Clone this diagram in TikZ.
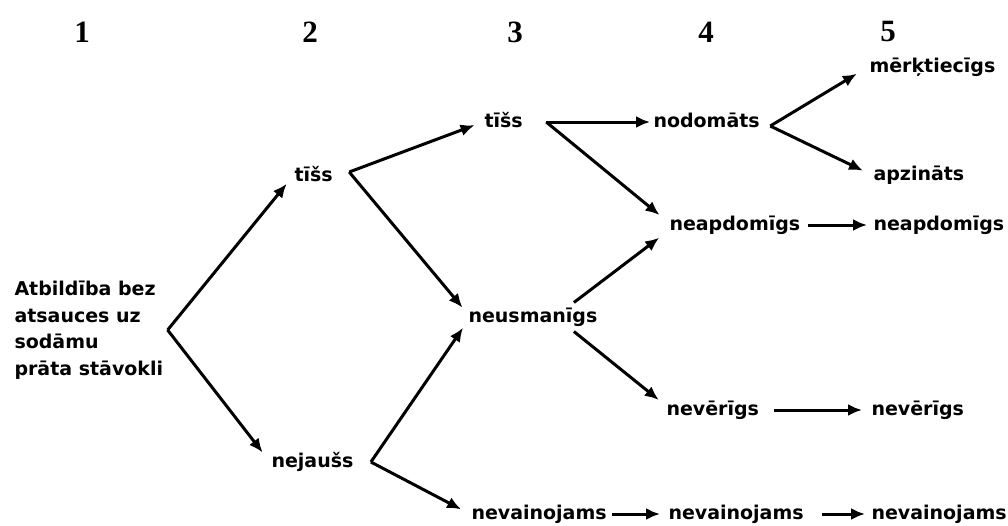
\documentclass[tikz,border=0pt]{standalone}
\usepackage{fontspec}
\newfontfamily\lblfont{DejaVu Sans}
\newfontfamily\numfont{Liberation Serif}
\usetikzlibrary{arrows.meta}
\begin{document}
\begin{tikzpicture}[x=1pt,y=-1pt,>={Latex[length=14pt,width=12pt]},line width=3pt,
	txt/.style={font=\lblfont\bfseries\fontsize{19}{26.5}\selectfont,inner sep=0pt,anchor=west},
	lbl/.style={txt,text height=14pt,text depth=4pt},
	colnum/.style={font=\numfont\bfseries\fontsize{31}{33}\selectfont,inner sep=0pt},
	link/.style={->,shorten >=9pt}]
\useasboundingbox (0,0) rectangle (1008,525);
\node[colnum] (c1) at (82,32) {1};
\node[colnum] (c2) at (310,32) {2};
\node[colnum] (c3) at (515,32) {3};
\node[colnum] (c4) at (706,32) {4};
\node[colnum] (c5) at (888,32) {5};
\node[txt,align=left] (root) at (13,330) {Atbildība bez\\atsauces uz\\sodāmu\\prāta stāvokli};
\node[lbl] (t2) at (293,176) {tīšs};
\node[lbl] (nj) at (270,462) {nejaušs};
\node[lbl] (t3) at (483,122) {tīšs};
\node[lbl] (ne) at (467,317) {neusmanīgs};
\node[lbl] (nn3) at (470,514) {nevainojams};
\node[lbl] (nd) at (652,122) {nodomāts};
\node[lbl] (na4) at (668,225) {neapdomīgs};
\node[lbl] (nv4) at (665,410) {nevērīgs};
\node[lbl] (nn4) at (667,514) {nevainojams};
\node[lbl] (mk) at (868,67) {mērķtiecīgs};
\node[lbl] (ap) at (872,175) {apzināts};
\node[lbl] (na5) at (872,225) {neapdomīgs};
\node[lbl] (nv5) at (870,410) {nevērīgs};
\node[lbl] (nn5) at (870,514) {nevainojams};
% branch points
\coordinate (r0) at ([xshift=3pt]root.east);
\coordinate (t2o) at ([xshift=15pt,yshift=4pt]t2.east);
\coordinate (t3o) at ([xshift=22pt]t3.east);
\coordinate (njo) at ([xshift=16pt]nj.east);
\coordinate (ndo) at ([xshift=9pt,yshift=-4pt]nd.east);
\draw[link,shorten >=10pt] (r0) -- (t2.west);
\draw[link,shorten >=12pt] (r0) -- (nj.west);
\draw[link] (t2o) -- (t3.west);
\draw[link,shorten >=7pt] (t2o) -- ([yshift=4pt]ne.west);
\draw[link,shorten >=7pt] (njo) -- ([yshift=-5pt]ne.west);
\draw[link,shorten >=10pt] (njo) -- (nn3.west);
\draw[link,shorten >=2pt] (t3o) -- (nd.west);
\draw[link,shorten >=11pt] (t3o) -- ([yshift=3pt]na4.west);
\draw[link,shorten >=11pt] ([xshift=41pt,yshift=4pt]ne.north) -- ([yshift=-6pt]na4.west);
\draw[link,shorten >=8pt] ([xshift=41pt,yshift=-4pt]ne.south) -- ([yshift=5pt]nv4.west);
\draw[link,shorten >=13pt] (ndo) -- (mk.west);
\draw[link,shorten >=10pt] (ndo) -- (ap.west);
\draw[link,shorten <=6pt,shorten >=5pt] (na4.east) -- (na5.west);
\draw[link,shorten <=14pt,shorten >=8pt] (nv4.east) -- (nv5.west);
\draw[link,shorten <=4pt,shorten >=7pt] (nn3.east) -- (nn4.west);
\draw[link,shorten <=17pt,shorten >=5pt] (nn4.east) -- (nn5.west);
\end{tikzpicture}
\end{document}
